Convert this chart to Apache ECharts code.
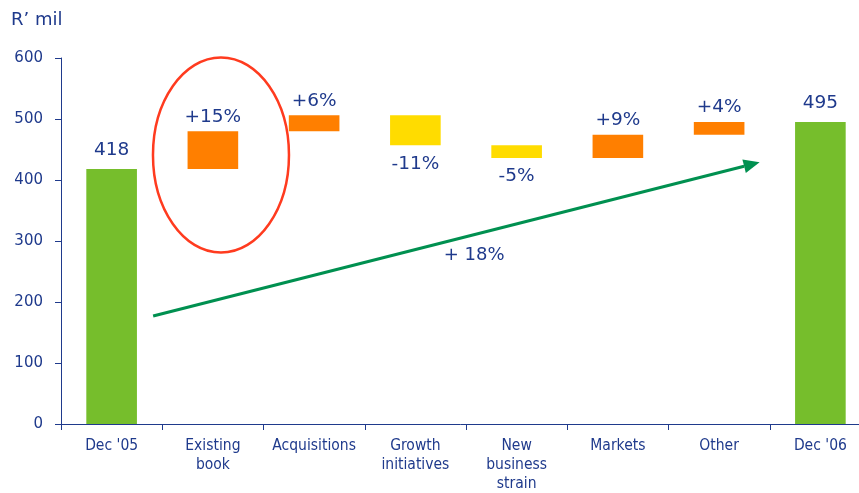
<!DOCTYPE html>
<html>
<head>
<meta charset="utf-8">
<script src="https://cdn.jsdelivr.net/npm/echarts@6.0.0/dist/echarts.min.js"></script>
<style>
  html, body { margin: 0; padding: 0; background: #fff; }
  #chart { width: 859px; height: 493px; }
</style>
</head>
<body>
<div id="chart"></div>
<script>
// waterfall steps (R' mil)
const categories = ["Dec '05", "Existing\nbook", "Acquisitions", "Growth\ninitiatives",
  "New\nbusiness\nstrain", "Markets", "Other", "Dec '06"];
const fromValues = [0, 418, 480, 506, 457, 436, 474, 0];
const toValues = [418, 480, 506, 457, 436, 474, 495, 495];
const barLabels = ["418", "+15%", "+6%", "-11%", "-5%", "+9%", "+4%", "495"];
const yTicks = [0, 100, 200, 300, 400, 500, 600];

const NAVY = "#1f3a8c";
const GREEN = "#76be2c";
const ORANGE = "#ff7f00";
const YELLOW = "#ffdc00";

const baseData = fromValues.map((f, i) => Math.min(f, toValues[i]));
const stepData = fromValues.map((f, i) => {
  const total = i === 0 || i === fromValues.length - 1;
  const up = toValues[i] >= f;
  return {
    value: Math.abs(toValues[i] - f),
    itemStyle: { color: total ? GREEN : up ? ORANGE : YELLOW },
    label: {
      show: true,
      formatter: barLabels[i],
      position: up ? "top" : "bottom",
      distance: total ? 9 : up ? 5 : 9,
    },
  };
});

const chart = echarts.init(document.getElementById("chart"), null, { renderer: "canvas" });

// the source picture is cropped on the right, so the plot runs past the edge
chart.setOption({
  animation: false,
  textStyle: { fontFamily: "DejaVu Sans" },
  grid: {
    left: 61, width: 810, top: 58, bottom: 69,
    containLabel: false, outerBoundsMode: "none",
  },
  xAxis: {
    type: "category",
    data: categories,
    axisLine: { lineStyle: { color: NAVY, width: 1 } },
    axisTick: { show: true, length: 6, lineStyle: { color: NAVY } },
    axisLabel: {
      color: NAVY,
      fontSize: 15.5,
      fontFamily: "DejaVu Sans Condensed",
      lineHeight: 19,
      margin: 12,
      interval: 0,
    },
  },
  yAxis: {
    type: "value",
    min: yTicks[0],
    max: yTicks[yTicks.length - 1],
    interval: 100,
    splitLine: { show: false },
    axisLine: { show: true, lineStyle: { color: NAVY, width: 1 } },
    axisTick: { show: true, length: 6, lineStyle: { color: NAVY } },
    axisLabel: { color: NAVY, fontSize: 15, margin: 18 },
  },
  series: [
    {
      type: "bar",
      stack: "w",
      data: baseData,
      itemStyle: { color: "transparent" },
      barWidth: "50%",
      silent: true,
    },
    {
      type: "bar",
      stack: "w",
      data: stepData,
      barWidth: "50%",
      label: { color: NAVY, fontSize: 18.5 },
    },
  ],
});

// annotations placed through the chart's own scales
function pt(idx, val) {
  const a = chart.convertToPixel({ gridIndex: 0 }, [Math.floor(idx), val]);
  const b = chart.convertToPixel({ gridIndex: 0 }, [Math.floor(idx) + 1, val]);
  const f = idx - Math.floor(idx);
  return [a[0] + (b[0] - a[0]) * f, a[1]];
}

const ellC = pt(1.08, 441);
const ellTop = pt(1.08, 600);
const ellBot = pt(1.08, 280);
const arrowFrom = pt(0.41, 177);
const arrowTo = pt(6.4, 429);
const growthText = pt(3.58, 277);

const ang = Math.atan2(arrowTo[1] - arrowFrom[1], arrowTo[0] - arrowFrom[0]);
const headLen = 16, headW = 7;
const bx = arrowTo[0] - headLen * Math.cos(ang);
const by = arrowTo[1] - headLen * Math.sin(ang);
const px = -Math.sin(ang), py = Math.cos(ang);

chart.setOption({
  graphic: [
    {
      type: "text",
      left: 11,
      top: 11,
      style: { text: "R\u2019 mil", fill: NAVY, font: "18px 'DejaVu Sans'" },
    },
    {
      type: "ellipse",
      shape: { cx: ellC[0], cy: ellC[1], rx: 68, ry: (ellBot[1] - ellTop[1]) / 2 },
      style: { fill: "none", stroke: "#ff3b1f", lineWidth: 2.5 },
    },
    {
      type: "line",
      shape: { x1: arrowFrom[0], y1: arrowFrom[1], x2: bx, y2: by },
      style: { stroke: "#009050", lineWidth: 3 },
    },
    {
      type: "polygon",
      shape: {
        points: [
          arrowTo,
          [bx + px * headW, by + py * headW],
          [bx - px * headW, by - py * headW],
        ],
      },
      style: { fill: "#009050" },
    },
    {
      type: "text",
      x: growthText[0],
      y: growthText[1],
      style: {
        text: "+ 18%",
        fill: NAVY,
        font: "18px 'DejaVu Sans'",
        align: "center",
        verticalAlign: "middle",
      },
    },
  ],
});
</script>
</body>
</html>
